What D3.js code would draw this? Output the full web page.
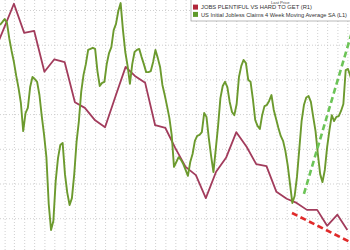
<!DOCTYPE html>
<html>
<head>
<meta charset="utf-8">
<script src="https://cdn.jsdelivr.net/npm/d3@7"></script>
<style>
body { margin: 0; background: #fff; }
svg { display: block; font-family: "Liberation Sans", Arial, sans-serif; }
.grid line { stroke: #c4c4c4; stroke-dasharray: 1,2; stroke-width: 0.8; }
.grid path { display: none; }
</style>
</head>
<body>
<script>
// weekly initial claims, 4 week moving average (thousands), first week below
var claimsStart = '2022-01-18';
var claims = [
    255.7, 256.5, 257.4, 256.3, 251.8, 248.2, 245.0, 241.0, 237.5, 233.2,
    225.1, 230.3, 231.8, 237.8, 240.7, 240.1, 239.3, 235.5, 229.4, 224.0,
    217.6, 204.1, 196.6, 199.2, 210.7, 217.3, 221.1, 221.7, 212.7, 207.3,
    203.8, 205.8, 212.7, 222.0, 228.0, 236.4, 241.3, 244.4, 248.5, 248.8,
    249.1, 248.8, 242.4, 238.1, 239.0, 239.3, 244.4, 247.6, 249.3, 254.2,
    256.0, 259.7, 262.0, 254.2, 247.9, 243.9, 238.7, 244.4, 247.9, 248.5,
    248.8, 246.5, 244.4, 242.1, 242.1, 242.4, 245.0, 248.5, 246.2, 243.6,
    238.4, 235.5, 232.3, 228.9, 224.0, 214.8, 216.2, 217.6, 216.8, 215.6,
    213.9, 212.2, 216.2, 218.5, 222.3, 223.7, 224.0, 224.8, 230.3, 229.2,
    223.1, 217.9, 213.3, 219.9, 226.6, 234.6, 238.1, 239.3, 237.8, 233.5,
    230.6, 229.7, 232.9, 240.7, 243.9, 245.6, 244.7, 239.8, 239.3, 234.3,
    228.3, 226.6, 225.7, 229.7, 232.3, 232.6, 233.8, 235.5, 231.2, 228.6,
    226.0, 223.7, 222.3, 219.4, 215.3, 209.9, 204.4, 206.4, 211.9, 219.9,
    228.0, 232.6, 234.8, 235.2, 233.5, 229.2, 225.1, 218.5, 212.7, 210.4,
    213.9, 220.5, 225.4, 229.7, 228.0, 229.2, 229.4, 230.9, 232.9, 242.7,
    243.0, 241.0, 238.4
];

// monthly jobs plentiful minus hard to get, first month below
var jobsStart = '2022-01-01';
var jobs = [
    39.0, 42.6, 45.9, 41.7, 42.0, 36.1, 37.9, 37.5, 31.7, 30.9,
    29.1, 28.1, 32.5, 36.8, 35.5, 34.5, 28.4, 28.0, 25.1, 22.4,
    21.2, 17.9, 21.7, 23.7, 27.4, 25.3, 22.8, 22.5, 18.8, 17.8,
    17.2, 16.2, 16.2, 13.9, 15.5, 13.3
];

var jobsTrendDates = ['2024-06-17', '2024-12-31'];
var jobsTrend = [15.75, 11.05];
var claimsTrendDates = ['2024-07-23', '2024-12-31'];
var claimsTrend = [207.0, 258.85];

var legendTitle = 'Last Price';
var legendItems = ['JOBS PLENTIFUL VS HARD TO GET  (R1)', 'US Initial Jobless Claims 4 Week Moving Average SA  (L1)'];

var parseDate = d3.timeParse('%Y-%m-%d');

var width = 350, height = 250;

var svg = d3.select('body').append('svg')
    .attr('width', width)
    .attr('height', height);

svg.append('rect').attr('width', width).attr('height', height).attr('fill', '#fff');

var x = d3.scaleTime()
    .domain([parseDate('2022-01-18'), parseDate('2024-12-09')])
    .range([0, width]);

// left axis: claims, right axis: jobs differential (axes themselves are cropped off)
var yL = d3.scaleLinear().domain([190, 270]).range([252.9, -24.7]);
var yR = d3.scaleLinear().domain([10, 50]).range([252.9, -24.7]);

svg.append('defs').append('clipPath').attr('id', 'clip')
    .append('rect').attr('width', width).attr('height', height);

svg.append('g')
    .attr('class', 'grid')
    .attr('transform', 'translate(0,' + height + ')')
    .call(d3.axisBottom(x).ticks(d3.timeMonth.every(1)).tickSize(-height).tickFormat(''));

svg.append('g')
    .attr('class', 'grid')
    .call(d3.axisLeft(yL).tickValues(d3.range(200, 270, 10)).tickSize(-width).tickFormat(''))
    .selectAll('line').attr('stroke-dasharray', '1.5,2.5');

var claimsData = claims.map(function (v, i) {
    return { date: d3.timeDay.offset(parseDate(claimsStart), i * 7), value: v };
});
var jobsData = jobs.map(function (v, i) {
    return { date: d3.timeMonth.offset(parseDate(jobsStart), i), value: v };
});

var plot = svg.append('g').attr('clip-path', 'url(#clip)');

var lineL = d3.line()
    .x(function (d) { return x(d.date); })
    .y(function (d) { return yL(d.value); });
var lineR = d3.line()
    .x(function (d) { return x(d.date); })
    .y(function (d) { return yR(d.value); });

plot.append('path')
    .datum(jobsData)
    .attr('fill', 'none')
    .attr('stroke', '#a23c5c')
    .attr('stroke-width', 1.8)
    .attr('stroke-linejoin', 'round')
    .attr('d', lineR);

plot.append('path')
    .datum(claimsData)
    .attr('fill', 'none')
    .attr('stroke', '#6c9a2e')
    .attr('stroke-width', 1.9)
    .attr('stroke-linejoin', 'round')
    .attr('d', lineL);

plot.append('path')
    .datum(jobsTrend.map(function (v, i) { return { date: parseDate(jobsTrendDates[i]), value: v }; }))
    .attr('fill', 'none')
    .attr('stroke', '#e02a2a')
    .attr('stroke-width', 2.6)
    .attr('stroke-dasharray', '6,3.5')
    .attr('d', lineR);

plot.append('path')
    .datum(claimsTrend.map(function (v, i) { return { date: parseDate(claimsTrendDates[i]), value: v }; }))
    .attr('fill', 'none')
    .attr('stroke', '#6cc457')
    .attr('stroke-width', 2.6)
    .attr('stroke-dasharray', '6,3.5')
    .attr('d', lineL);

// legend
var legend = svg.append('g').attr('transform', 'translate(191,0)');

legend.append('rect')
    .attr('x', 0).attr('y', -6)
    .attr('width', 170).attr('height', 27)
    .attr('fill', '#fff')
    .attr('stroke', '#9a9a9a')
    .attr('stroke-width', 0.7);

legend.append('text')
    .attr('x', 80).attr('y', 3.6)
    .attr('font-size', 4.2)
    .attr('fill', '#444')
    .text(legendTitle);

var item = legend.selectAll('.item')
    .data(legendItems)
    .enter().append('g')
    .attr('class', 'item')
    .attr('transform', function (d, i) { return 'translate(2,' + (4.6 + i * 7.3) + ')'; });

item.append('rect')
    .attr('width', 5).attr('height', 5)
    .attr('fill', function (d, i) { return i === 0 ? '#b0263a' : '#5f9a2a'; });

item.append('text')
    .attr('x', 8).attr('y', 4.6)
    .attr('font-size', 5.6)
    .attr('fill', '#333')
    .attr('textLength', function (d, i) { return i === 0 ? 111 : 146; })
    .attr('lengthAdjust', 'spacingAndGlyphs')
    .text(function (d) { return d; });
</script>
</body>
</html>
